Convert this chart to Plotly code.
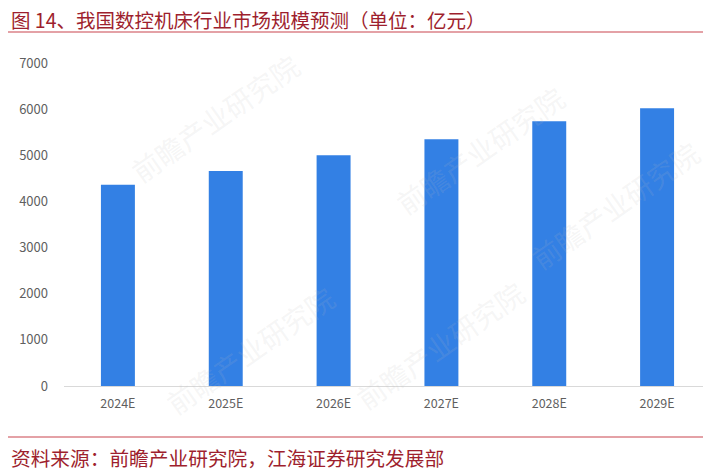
import plotly.graph_objects as go

categories = ["2024E", "2025E", "2026E", "2027E", "2028E", "2029E"]
values = [4360, 4660, 5000, 5350, 5740, 6020]
y_ticks = [0, 1000, 2000, 3000, 4000, 5000, 6000, 7000]

title_text = "图 14、我国数控机床行业市场规模预测（单位：亿元）"
source_text = "资料来源：前瞻产业研究院，江海证券研究发展部"
watermark_text = "前瞻产业研究院"
watermark_spots = [(215, 118), (480, 150), (615, 205), (250, 350), (440, 345)]

# page body has an 8px default margin, so the figure is sized to fit the window
OFF = 8
W, H = 711 - OFF, 476 - OFF
L, R, T, B = 64 - OFF, 0, 63 - OFF, 476 - 386
PW, PH = W - L - R, H - T - B

def px_x(px):
    return (px - OFF - L) / PW

def px_y(py):
    return (H - B - (py - OFF)) / PH

fig = go.Figure()
fig.add_trace(go.Bar(x=categories, y=values, marker=dict(color="#3380E4", line=dict(width=0)),
                     width=0.315))

annotations = [
    dict(text=watermark_text, xref="paper", yref="paper", x=px_x(wx), y=px_y(wy),
         xanchor="center", yanchor="middle", showarrow=False, textangle=-35,
         font=dict(size=28, color="rgba(190,190,190,0.15)", family="Noto Sans CJK SC"))
    for wx, wy in watermark_spots
]
annotations += [
    dict(text=title_text, xref="paper", yref="paper", x=px_x(9), y=px_y(19.5), xanchor="left",
         yanchor="middle", showarrow=False,
         font=dict(size=19.5, color="#9E1F2E", family="Noto Sans CJK SC")),
    dict(text=source_text, xref="paper", yref="paper", x=px_x(9), y=px_y(457), xanchor="left",
         yanchor="middle", showarrow=False,
         font=dict(size=19.7, color="#9E1F2E", family="Noto Sans CJK SC")),
]

fig.update_layout(
    width=W, height=H,
    margin=dict(l=L, r=R, t=T, b=B, autoexpand=False),
    paper_bgcolor="white", plot_bgcolor="white",
    showlegend=False,
    font=dict(family="Noto Sans CJK SC, Noto Sans, sans-serif"),
    xaxis=dict(showgrid=False, showline=True, linecolor="#d9d9d9",
               linewidth=1, ticks="", tickfont=dict(size=12.5, color="#5f5f5f"),
               ticklabelstandoff=6),
    yaxis=dict(range=[0, 7000], tickvals=y_ticks,
               showgrid=False, zeroline=False, showline=False, ticks="",
               tickfont=dict(size=13, color="#5f5f5f"), ticklabelstandoff=15),
    shapes=[
        dict(type="line", xref="paper", yref="paper", x0=px_x(8), x1=px_x(711), y0=px_y(32), y1=px_y(32),
             line=dict(color="#C9444F", width=1.2)),
        dict(type="line", xref="paper", yref="paper", x0=px_x(8), x1=px_x(711), y0=px_y(437), y1=px_y(437),
             line=dict(color="#C9444F", width=1.2)),
    ],
    annotations=annotations,
)

fig.write_html("out.html")
